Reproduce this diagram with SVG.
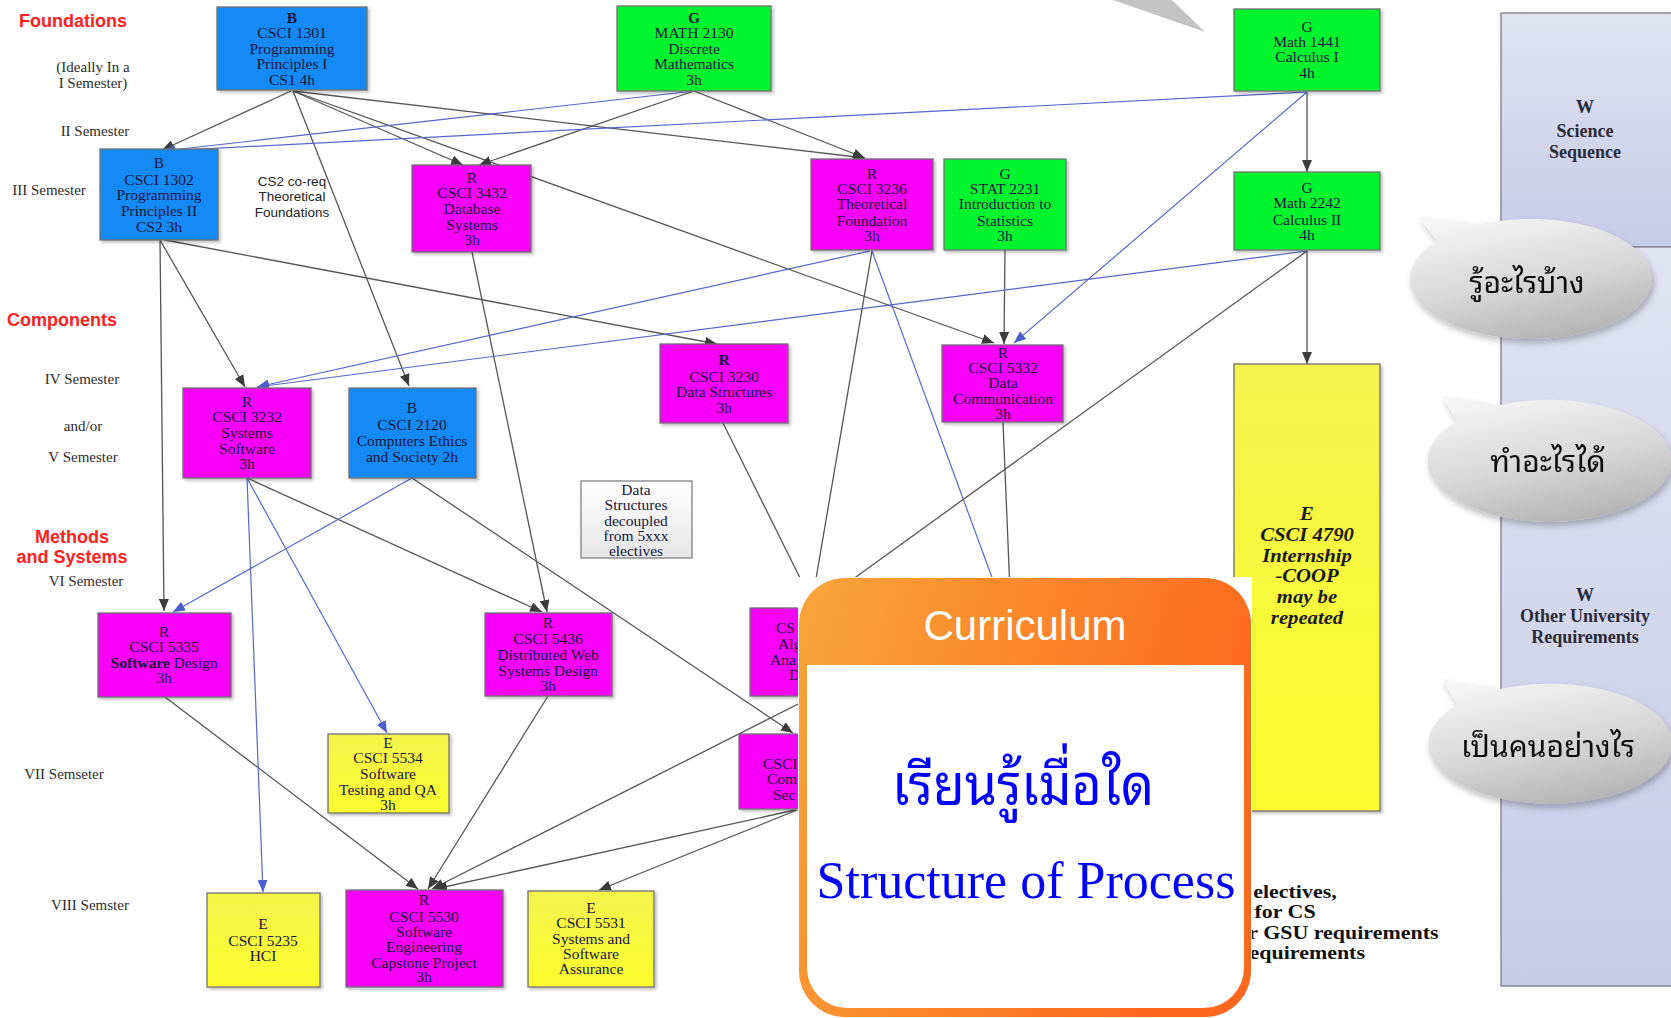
<svg xmlns="http://www.w3.org/2000/svg" width="1671" height="1018" viewBox="0 0 1671 1018">
  <defs>
    <style>
      .t { font-family: "Liberation Serif", "Times New Roman", serif; font-size: 15.5px; fill: #16163c; text-anchor: middle; }
      .lbl { font-family: "Liberation Serif", "Times New Roman", serif; font-size: 15px; fill: #2c2c2c; text-anchor: middle; }
      .sec { font-family: "Liberation Sans", Arial, sans-serif; font-size: 18px; font-weight: bold; fill: #ff2020; text-anchor: middle; }
      .note { font-family: "Liberation Sans", Arial, sans-serif; font-size: 13.5px; fill: #222; text-anchor: middle; }
      .pnl { font-family: "Liberation Serif", "Times New Roman", serif; font-size: 18px; font-weight: bold; fill: #2a2a3a; text-anchor: middle; }
      .ital { font-family: "Liberation Serif", "Times New Roman", serif; font-size: 18px; font-weight: bold; font-style: italic; fill: #1a1a1a; text-anchor: middle; }
      .foot { font-family: "Liberation Serif", "Times New Roman", serif; font-size: 18px; font-weight: bold; fill: #111; }
      .thai { font-family: "Noto Sans Thai Looped", "Loma", "Garuda", "Norasi", "Noto Serif Thai", "Noto Sans Thai", "Tlwg Typo", "DejaVu Sans", sans-serif; }
      .box { stroke: #707070; stroke-width: 1.3; filter: url(#shadow); }
      .blue { fill: #168af4; }
      .green { fill: #06f52d; }
      .mag { fill: #f800f8; }
      .yel { fill: url(#yelGrad); }
      .ln { fill: none; stroke: #555; stroke-width: 1.3; }
      .lnb { fill: none; stroke: #5566cc; stroke-width: 1.2; }
      .arr { marker-end: url(#ah); }
      .arrb { marker-end: url(#ahb); }
    </style>
    <filter id="shadow" x="-10%" y="-10%" width="130%" height="130%">
      <feDropShadow dx="2" dy="2" stdDeviation="1.5" flood-color="#000" flood-opacity="0.25"/>
    </filter>
    <filter id="bshadow" x="-20%" y="-20%" width="140%" height="150%">
      <feDropShadow dx="2" dy="4" stdDeviation="3" flood-color="#000" flood-opacity="0.25"/>
    </filter>
    <linearGradient id="yelGrad" x1="0" y1="0" x2="0" y2="1">
      <stop offset="0" stop-color="#f3f34c"/>
      <stop offset="1" stop-color="#fcfc2e"/>
    </linearGradient>
    <linearGradient id="noteGrad" x1="0" y1="0" x2="0" y2="1">
      <stop offset="0" stop-color="#ffffff"/>
      <stop offset="1" stop-color="#e6e6e6"/>
    </linearGradient>
    <linearGradient id="panelGrad" x1="0" y1="0" x2="0" y2="1">
      <stop offset="0" stop-color="#e0e3f1"/>
      <stop offset="1" stop-color="#c7cbe6"/>
    </linearGradient>
    <linearGradient id="bubbleGrad" x1="0.2" y1="0" x2="0.6" y2="1">
      <stop offset="0" stop-color="#f6f6f6"/>
      <stop offset="0.55" stop-color="#d8d8d8"/>
      <stop offset="1" stop-color="#b4b4b4"/>
    </linearGradient>
    <linearGradient id="orangeGrad" x1="0" y1="0" x2="1" y2="0.3">
      <stop offset="0" stop-color="#f9a63a"/>
      <stop offset="1" stop-color="#fc681e"/>
    </linearGradient>
    <marker id="ah" viewBox="0 0 12 10" markerWidth="12" markerHeight="10" refX="12" refY="5" orient="auto" markerUnits="userSpaceOnUse">
      <path d="M0,0 L12,5 L0,10 z" fill="#3c3c3c"/>
    </marker>
    <marker id="ahb" viewBox="0 0 12 10" markerWidth="12" markerHeight="10" refX="12" refY="5" orient="auto" markerUnits="userSpaceOnUse">
      <path d="M0,0 L12,5 L0,10 z" fill="#4d5fcc"/>
    </marker>
  </defs>

  <rect x="0" y="0" width="1671" height="1018" fill="#ffffff"/>

  <!-- side panels -->
  <g id="panel-science">
    <rect x="1501" y="13" width="175" height="234" fill="url(#panelGrad)" stroke="#8a8a96" stroke-width="1.5"/>
    <text class="pnl"><tspan x="1585" y="113">W</tspan><tspan x="1585" y="137">Science</tspan><tspan x="1585" y="158">Sequence</tspan></text>
  </g>
  <g id="panel-other">
    <rect x="1501" y="247" width="175" height="739" fill="url(#panelGrad)" stroke="#8a8a96" stroke-width="1.5"/>
    <text class="pnl" font-size="17"><tspan x="1585" y="601">W</tspan><tspan x="1585" y="622">Other University</tspan><tspan x="1585" y="643">Requirements</tspan></text>
  </g>

  <!-- row and area labels -->
  <g id="labels">
    <text class="sec" x="73" y="27">Foundations</text>
    <text class="lbl" x="93" y="72">(Ideally In a</text>
    <text class="lbl" x="93" y="88">I Semester)</text>
    <text class="lbl" x="95" y="136">II Semester</text>
    <text class="lbl" x="49" y="195">III Semester</text>
    <text class="note"><tspan x="292" y="186">CS2 co-req</tspan><tspan x="292" y="201">Theoretical</tspan><tspan x="292" y="217">Foundations</tspan></text>
    <text class="sec" x="62" y="326">Components</text>
    <text class="lbl" x="82" y="384">IV Semester</text>
    <text class="lbl" x="83" y="431">and/or</text>
    <text class="lbl" x="83" y="462">V Semester</text>
    <text class="sec" x="72" y="543">Methods</text>
    <text class="sec" x="72" y="563">and Systems</text>
    <text class="lbl" x="86" y="586">VI Semester</text>
    <text class="lbl" x="64" y="779">VII Semseter</text>
    <text class="lbl" x="90" y="910">VIII Semster</text>
  </g>

  <!-- prerequisite connectors -->
  <g id="connectors">
    <line class="ln arr" x1="291" y1="91" x2="162" y2="150"/>
    <line class="ln arr" x1="293" y1="91" x2="409" y2="386"/>
    <line class="ln arr" x1="293" y1="91" x2="463" y2="165"/>
    <line class="ln arr" x1="293" y1="91" x2="865" y2="158"/>
    <line class="ln arr" x1="293" y1="91" x2="994" y2="343"/>
    <line class="ln arr" x1="694" y1="91" x2="479" y2="165"/>
    <line class="ln arr" x1="694" y1="91" x2="865" y2="158"/>
    <line class="ln arr" x1="160" y1="240" x2="164" y2="611"/>
    <line class="ln arr" x1="160" y1="240" x2="245" y2="387"/>
    <line class="ln arr" x1="165" y1="240" x2="717" y2="344"/>
    <line class="ln arr" x1="472" y1="252" x2="547" y2="612"/>
    <line class="ln arr" x1="247" y1="478" x2="542" y2="612"/>
    <line class="ln arr" x1="412" y1="478" x2="793" y2="733"/>
    <line class="ln arr" x1="165" y1="697" x2="418" y2="889"/>
    <line class="ln arr" x1="548" y1="696" x2="428" y2="889"/>
    <line class="ln arr" x1="814" y1="696" x2="432" y2="889"/>
    <line class="ln arr" x1="795" y1="810" x2="435" y2="889"/>
    <line class="ln arr" x1="797" y1="810" x2="599" y2="890"/>
    <line class="ln arr" x1="1005" y1="250" x2="1004" y2="344"/>
    <line class="ln arr" x1="1307" y1="92" x2="1307" y2="172"/>
    <line class="ln arr" x1="1307" y1="251" x2="1307" y2="364"/>
    <line class="ln" x1="1307" y1="251" x2="813" y2="608"/>
    <line class="ln" x1="872" y1="251" x2="811" y2="608"/>
    <line class="ln" x1="723" y1="423" x2="815" y2="608"/>
    <line class="ln" x1="1003" y1="422" x2="1012" y2="640"/>
    <line class="lnb arrb" x1="694" y1="91" x2="163" y2="151"/>
    <line class="lnb arrb" x1="1307" y1="92" x2="163" y2="151"/>
    <line class="lnb arrb" x1="1307" y1="92" x2="1014" y2="343"/>
    <line class="lnb arrb" x1="870" y1="251" x2="257" y2="387"/>
    <line class="lnb arrb" x1="1307" y1="251" x2="257" y2="387"/>
    <line class="lnb" x1="872" y1="251" x2="1015" y2="640"/>
    <line class="lnb arrb" x1="412" y1="478" x2="173" y2="612"/>
    <line class="lnb arrb" x1="247" y1="478" x2="263" y2="892"/>
    <line class="lnb arrb" x1="247" y1="478" x2="387" y2="733"/>
  </g>

  <!-- course nodes -->
  <g id="csci1301">
    <rect class="box blue" x="217" y="7" width="150" height="83"/>
    <text class="t"><tspan x="292" y="23" font-weight="bold">B</tspan><tspan x="292" y="38">CSCI 1301</tspan><tspan x="292" y="54">Programming</tspan><tspan x="292" y="69">Principles I</tspan><tspan x="292" y="85">CS1  4h</tspan></text>
  </g>
  <g id="math2130">
    <rect class="box green" x="617" y="6" width="154" height="85"/>
    <text class="t"><tspan x="694" y="23" font-weight="bold">G</tspan><tspan x="694" y="38">MATH 2130</tspan><tspan x="694" y="54">Discrete</tspan><tspan x="694" y="69">Mathematics</tspan><tspan x="694" y="85">3h</tspan></text>
  </g>
  <g id="math1441">
    <rect class="box green" x="1234" y="9" width="146" height="82"/>
    <text class="t"><tspan x="1307" y="32">G</tspan><tspan x="1307" y="47">Math 1441</tspan><tspan x="1307" y="62">Calculus I</tspan><tspan x="1307" y="78">4h</tspan></text>
  </g>
  <g id="csci1302">
    <rect class="box blue" x="100" y="149" width="118" height="91"/>
    <text class="t"><tspan x="159" y="168">B</tspan><tspan x="159" y="185">CSCI 1302</tspan><tspan x="159" y="200">Programming</tspan><tspan x="159" y="216">Principles II</tspan><tspan x="159" y="232">CS2  3h</tspan></text>
  </g>
  <g id="csci3432">
    <rect class="box mag" x="412" y="165" width="119" height="87"/>
    <text class="t"><tspan x="472" y="183">R</tspan><tspan x="472" y="198">CSCI 3432</tspan><tspan x="472" y="214">Database</tspan><tspan x="472" y="230">Systems</tspan><tspan x="472" y="245">3h</tspan></text>
  </g>
  <g id="csci3236">
    <rect class="box mag" x="811" y="159" width="122" height="91"/>
    <text class="t"><tspan x="872" y="179">R</tspan><tspan x="872" y="194">CSCI 3236</tspan><tspan x="872" y="209">Theoretical</tspan><tspan x="872" y="226">Foundation</tspan><tspan x="872" y="241">3h</tspan></text>
  </g>
  <g id="stat2231">
    <rect class="box green" x="944" y="159" width="122" height="91"/>
    <text class="t"><tspan x="1005" y="179">G</tspan><tspan x="1005" y="194">STAT 2231</tspan><tspan x="1005" y="209">Introduction to</tspan><tspan x="1005" y="226">Statistics</tspan><tspan x="1005" y="241">3h</tspan></text>
  </g>
  <g id="math2242">
    <rect class="box green" x="1234" y="172" width="146" height="78"/>
    <text class="t"><tspan x="1307" y="193">G</tspan><tspan x="1307" y="208">Math 2242</tspan><tspan x="1307" y="225">Calculus II</tspan><tspan x="1307" y="240">4h</tspan></text>
  </g>
  <g id="csci3232">
    <rect class="box mag" x="183" y="388" width="128" height="90"/>
    <text class="t"><tspan x="247" y="407">R</tspan><tspan x="247" y="422">CSCI  3232</tspan><tspan x="247" y="438">Systems</tspan><tspan x="247" y="454">Software</tspan><tspan x="247" y="469">3h</tspan></text>
  </g>
  <g id="csci2120">
    <rect class="box blue" x="349" y="388" width="127" height="90"/>
    <text class="t"><tspan x="412" y="413">B</tspan><tspan x="412" y="430">CSCI 2120</tspan><tspan x="412" y="446">Computers Ethics</tspan><tspan x="412" y="462">and Society 2h</tspan></text>
  </g>
  <g id="csci3230">
    <rect class="box mag" x="660" y="344" width="128" height="79"/>
    <text class="t"><tspan x="724" y="365" font-weight="bold">R</tspan><tspan x="724" y="382">CSCI 3230</tspan><tspan x="724" y="397">Data Structures</tspan><tspan x="724" y="413">3h</tspan></text>
  </g>
  <g id="csci5332">
    <rect class="box mag" x="942" y="345" width="121" height="77"/>
    <text class="t"><tspan x="1003" y="358">R</tspan><tspan x="1003" y="373">CSCI 5332</tspan><tspan x="1003" y="388">Data</tspan><tspan x="1003" y="404">Communication</tspan><tspan x="1003" y="419">3h</tspan></text>
  </g>
  <g id="ds-note">
    <rect x="581" y="481" width="111" height="77" fill="url(#noteGrad)" stroke="#808080" stroke-width="1.3"/>
    <text class="t"><tspan x="636" y="495">Data</tspan><tspan x="636" y="510">Structures</tspan><tspan x="636" y="526">decoupled</tspan><tspan x="636" y="541">from 5xxx</tspan><tspan x="636" y="556">electives</tspan></text>
  </g>
  <g id="csci5335">
    <rect class="box mag" x="98" y="613" width="133" height="84"/>
    <text class="t"><tspan x="164" y="637">R</tspan><tspan x="164" y="652">CSCI 5335</tspan><tspan x="164" y="668"><tspan font-weight="bold">Software</tspan> Design</tspan><tspan x="164" y="683">3h</tspan></text>
  </g>
  <g id="csci5436">
    <rect class="box mag" x="485" y="613" width="127" height="83"/>
    <text class="t"><tspan x="548" y="628">R</tspan><tspan x="548" y="644">CSCI 5436</tspan><tspan x="548" y="660">Distributed Web</tspan><tspan x="548" y="676">Systems Design</tspan><tspan x="548" y="691">3h</tspan></text>
  </g>
  <g id="csci-algorithms">
    <rect class="box mag" x="750" y="608" width="128" height="88"/>
    <text class="t" style="text-anchor:start"><tspan x="776" y="633">CS</tspan><tspan x="778" y="649">Alg</tspan><tspan x="770" y="665">Ana</tspan><tspan x="789" y="680">D</tspan></text>
  </g>
  <g id="csci-security">
    <rect class="box mag" x="739" y="734" width="128" height="75"/>
    <text class="t" style="text-anchor:start"><tspan x="763" y="769">CSCI</tspan><tspan x="767" y="784">Com</tspan><tspan x="773" y="800">Sec</tspan></text>
  </g>
  <g id="csci5534">
    <rect class="box yel" x="328" y="734" width="121" height="79"/>
    <text class="t"><tspan x="388" y="748">E</tspan><tspan x="388" y="763">CSCI 5534</tspan><tspan x="388" y="779">Software</tspan><tspan x="388" y="795">Testing and QA</tspan><tspan x="388" y="810">3h</tspan></text>
  </g>
  <g id="csci5235">
    <rect class="box yel" x="207" y="893" width="113" height="94"/>
    <text class="t"><tspan x="263" y="929">E</tspan><tspan x="263" y="946">CSCI 5235</tspan><tspan x="263" y="961">HCI</tspan></text>
  </g>
  <g id="csci5530">
    <rect class="box mag" x="346" y="890" width="157" height="97"/>
    <text class="t"><tspan x="424" y="905">R</tspan><tspan x="424" y="922">CSCI 5530</tspan><tspan x="424" y="937">Software</tspan><tspan x="424" y="952">Engineering</tspan><tspan x="424" y="968">Capstone Project</tspan><tspan x="424" y="982">3h</tspan></text>
  </g>
  <g id="csci5531">
    <rect class="box yel" x="528" y="891" width="126" height="96"/>
    <text class="t"><tspan x="591" y="913">E</tspan><tspan x="591" y="928">CSCI 5531</tspan><tspan x="591" y="944">Systems and</tspan><tspan x="591" y="959">Software</tspan><tspan x="591" y="974">Assurance</tspan></text>
  </g>
  <g id="csci4790">
    <rect class="box yel" x="1234" y="364" width="146" height="447"/>
    <g transform="translate(1307,0) scale(1.15,1)">
      <text class="ital"><tspan x="0" y="520">E</tspan><tspan x="0" y="541">CSCI 4790</tspan><tspan x="0" y="562">Internship</tspan><tspan x="0" y="582">-COOP</tspan><tspan x="0" y="603">may be</tspan><tspan x="0" y="624">repeated</tspan></text>
    </g>
  </g>

  <!-- requirement notes at the bottom right -->
  <g id="footnote" transform="translate(1252,0) scale(1.22,1)">
    <text class="foot"><tspan x="1" y="898">electives,</tspan><tspan x="2" y="918">for CS</tspan><tspan x="-3" y="939">r GSU requirements</tspan><tspan x="-2" y="959">equirements</tspan></text>
  </g>

  <!-- curriculum card -->
  <g id="curriculum-card">
    <rect x="798" y="577" width="454" height="441" fill="#ffffff"/>
    <rect x="799" y="578" width="452" height="439" rx="46" ry="46" fill="url(#orangeGrad)"/>
    <path d="M807,665 H1244 V968 A40,40 0 0 1 1204,1008 H847 A40,40 0 0 1 807,968 Z" fill="#ffffff"/>
    <text x="1025" y="640" font-family="'Liberation Sans', Arial, sans-serif" font-size="42" fill="#ffffff" text-anchor="middle">Curriculum</text>
    <text class="thai" x="1023" y="805" font-size="58" fill="#0000ff" text-anchor="middle" textLength="262" lengthAdjust="spacingAndGlyphs">เรียนรู้เมื่อใด</text>
    <text x="1026" y="898" font-family="'Liberation Serif', 'Times New Roman', serif" font-size="52" fill="#0000ff" text-anchor="middle">Structure of Process</text>
  </g>

  <!-- speech bubbles -->
  <g id="bubble-top-tail">
    <polygon points="1113,0 1172,0 1205,32" fill="#c4c4c4"/>
  </g>
  <g id="bubble-know" filter="url(#bshadow)">
    <path d="M1419,217 L1482,224 A121,60 0 1 1 1437,241 Z" fill="url(#bubbleGrad)"/>
    <text class="thai" x="1527" y="293" font-size="30" fill="#111" text-anchor="middle">รู้อะไรบ้าง</text>
  </g>
  <g id="bubble-do" filter="url(#bshadow)">
    <path d="M1442,396 L1500,405 A122,61 0 1 1 1457,421 Z" fill="url(#bubbleGrad)"/>
    <text class="thai" x="1548" y="472" font-size="30" fill="#111" text-anchor="middle">ทำอะไรได้</text>
  </g>
  <g id="bubble-be" filter="url(#bshadow)">
    <path d="M1442,679 L1500,689 A122,60 0 1 1 1457,705 Z" fill="url(#bubbleGrad)"/>
    <text class="thai" x="1548" y="757" font-size="30" fill="#111" text-anchor="middle">เป็นคนอย่างไร</text>
  </g>
</svg>
